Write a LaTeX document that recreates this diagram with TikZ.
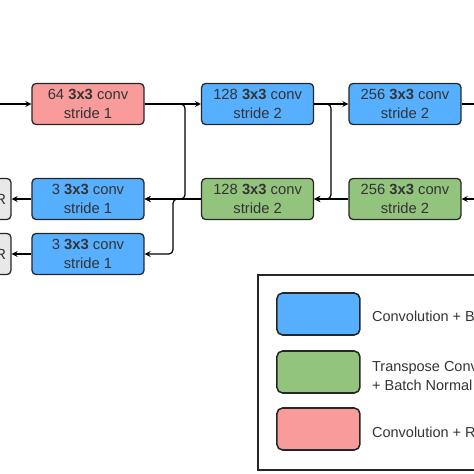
\documentclass[tikz,border=0pt]{standalone}
\usepackage{fontspec}
\setmainfont{Liberation Sans}
\usetikzlibrary{calc}
\definecolor{convblue}{HTML}{57B0FF}
\definecolor{tconvgreen}{HTML}{93C47D}
\definecolor{convred}{HTML}{F99B9B}
\definecolor{imggray}{HTML}{E8E8E8}
\definecolor{edgegray}{HTML}{262626}
\definecolor{txtgray}{HTML}{333333}

\begin{document}
\begin{tikzpicture}[>=stealth,
    layer/.style={draw=edgegray,line width=0.9pt,rounded corners=3pt,minimum width=2.8cm,minimum height=1.03cm,align=center,text=txtgray,font=\fontsize{10.5}{13.8}\selectfont},
    enc/.style={layer,fill=convblue},
    dec/.style={layer,fill=tconvgreen},
    first/.style={layer,fill=convred},
    img/.style={layer,fill=imggray,minimum width=1.5cm,text width=1.25cm,align=right,inner xsep=0.125cm},
    swatch/.style={draw=edgegray,line width=1.1pt,rounded corners=4pt,minimum width=2.075cm,minimum height=1.05cm},
    legtext/.style={anchor=west,align=left,text=txtgray,font=\fontsize{10.3}{13}\selectfont},
    conn/.style={line width=0.9pt,rounded corners=3pt}]
      \useasboundingbox (0,0) rectangle (11.85,11.85);
      \clip (0,0) rectangle (11.85,11.85);

      \node[first] (conv64) at (2.2,9.25) {64 \textbf{3x3} conv\\stride 1};
      \node[enc] (enc128) at (6.44,9.25) {128 \textbf{3x3} conv\\stride 2};
      \node[enc] (enc256) at (10.125,9.25) {256 \textbf{3x3} conv\\stride 2};
      \node[dec] (dec256) at (10.125,6.875) {256 \textbf{3x3} conv\\stride 2};
      \node[dec] (dec128) at (6.44,6.875) {128 \textbf{3x3} conv\\stride 2};
      \node[enc] (outa) at (2.2,6.875) {3 \textbf{3x3} conv\\stride 1};
      \node[enc] (outb) at (2.2,5.5) {3 \textbf{3x3} conv\\stride 1};
      \node[img] (imga) at (-0.475,6.875) {R};
      \node[img] (imgb) at (-0.475,5.5) {R};

      \coordinate (in) at (-0.3,9.25);
      \coordinate (encout) at (12.3,9.25);
      \coordinate (decin) at (12.3,6.875);
      \coordinate (skipa) at (4.625,9.25);
      \coordinate (skipb) at (8.275,9.25);
      \coordinate (splitb) at (4.325,6.875);

      \draw[conn,->] (in) -- (conv64);
      \draw[conn,->] (conv64) -- (enc128);
      \draw[conn,->] (enc128) -- (enc256);
      \draw[conn] (enc256) -- (encout);
      \draw[conn,->] (decin) -- (dec256);
      \draw[conn,->] (dec256) -- (dec128);
      \draw[conn,->] (dec128) -- (outa);
      \draw[conn,->] (conv64.east) -- (skipa) |- (outa.east);
      \draw[conn,->] (enc128.east) -- (skipb) |- (dec128.east);
      \draw[conn,->] (dec128.west) -- (splitb) |- (outb.east);
      \draw[conn,->] (outa) -- (imga);
      \draw[conn,->] (outb) -- (imgb);

      % legend
      \draw[line width=1pt,edgegray] (6.45,0.1) rectangle (12.5,4.975);
      \node[swatch,fill=convblue] (keyenc) at (7.96,4.0) {};
      \node[swatch,fill=tconvgreen] (keydec) at (7.96,2.55) {};
      \node[swatch,fill=convred] (keyfirst) at (7.96,1.125) {};
      \node[legtext] (txtenc) at (9.18,3.95) {Convolution + B};
      \node[legtext] (txtdec) at (9.18,2.45) {Transpose Conv\\+ Batch Normal};
      \node[legtext] (txtfirst) at (9.18,1.05) {Convolution + R};
    \end{tikzpicture}
\end{document}
